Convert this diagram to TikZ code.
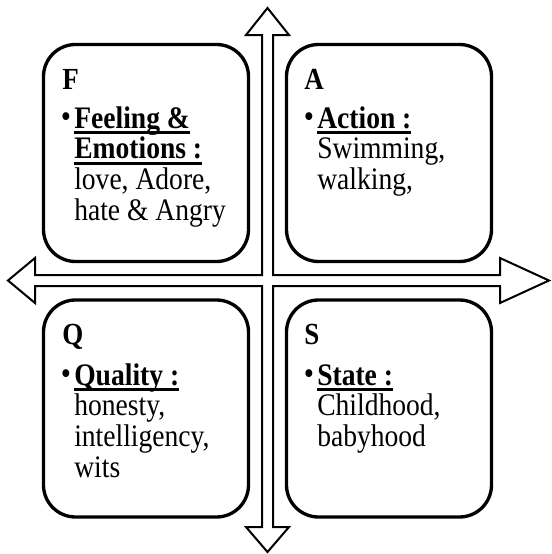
\documentclass[tikz,border=0pt]{standalone}
\usepackage{fontspec}
\setmainfont{Liberation Serif}[FakeStretch=0.88]
\newcommand{\hdr}[1]{\setbox0\hbox{\textbf{#1}}\rlap{\rule[-4.2pt]{\wd0}{2pt}}\box0}
\newcommand{\dotmark}{\makebox[9pt][l]{\hspace{-1pt}\raisebox{0.6pt}{\scalebox{1.05}{\textbullet}}}}

\begin{document}
\begin{tikzpicture}[x=0.75pt, y=-0.75pt,
		quadbox/.style={draw, line width=2.5pt, rounded corners=24pt, inner sep=0pt,
			minimum width=153.75pt, minimum height=162.75pt},
		letter/.style={anchor=base west, inner sep=0pt, font=\fontsize{23}{22.9}\selectfont\bfseries},
		itemtxt/.style={anchor=base west, inner sep=0pt, font=\fontsize{23.5}{22.9}\selectfont}]
			%%%%% START %%%%%
			\useasboundingbox (0, 0) rectangle (551, 554);
			
			% cross of arrows
			\draw[line width=1.5pt, line join=miter] (267.5, 8) -- (289, 35) -- (273, 35) -- (273, 275)
				-- (500, 275) -- (500, 258) -- (549, 280.5) -- (500, 303) -- (500, 286) -- (273, 286)
				-- (273, 527) -- (289, 527) -- (267.5, 552) -- (246, 527) -- (262, 527) -- (262, 286)
				-- (35, 286) -- (35, 303) -- (8, 280.5) -- (35, 258) -- (35, 275) -- (262, 275)
				-- (262, 35) -- (246, 35) -- cycle;
			
			% quadrants
			\node[quadbox] (boxF) at (146, 153) {};
			\node[quadbox] (boxA) at (389, 153) {};
			\node[quadbox] (boxQ) at (146, 408.5) {};
			\node[quadbox] (boxS) at (389, 408.5) {};
			
			\node[letter] (ltrF) at (62, 89) {F};
			\node[itemtxt] (txtF) at (62, 128) {\begin{tabular}[t]{@{}l@{}l@{}}
					\dotmark & \hdr{Feeling \&}\\ & \hdr{Emotions :}\\ & love, Adore,\\ & hate \& Angry
				\end{tabular}};
			
			\node[letter] (ltrA) at (304, 89) {A};
			\node[itemtxt] (txtA) at (305, 128) {\begin{tabular}[t]{@{}l@{}l@{}}
					\dotmark & \hdr{Action :}\\ & Swimming,\\ & walking,
				\end{tabular}};
			
			\node[letter] (ltrQ) at (62, 344) {Q};
			\node[itemtxt] (txtQ) at (62, 385) {\begin{tabular}[t]{@{}l@{}l@{}}
					\dotmark & \hdr{Quality :}\\ & honesty,\\ & intelligency,\\ & wits
				\end{tabular}};
			
			\node[letter] (ltrS) at (304, 344) {S};
			\node[itemtxt] (txtS) at (305, 385) {\begin{tabular}[t]{@{}l@{}l@{}}
					\dotmark & \hdr{State :}\\ & Childhood,\\ & babyhood
				\end{tabular}};
			
			%%%%% END %%%%%
\end{tikzpicture}
\end{document}
